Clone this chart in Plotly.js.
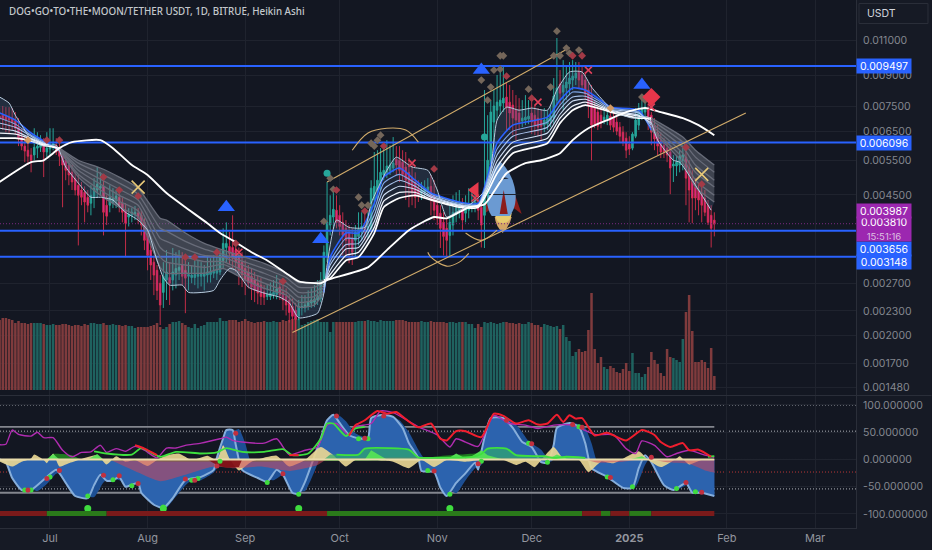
<!DOCTYPE html>
<html><head><meta charset="utf-8">
<script src="https://cdn.plot.ly/plotly-3.0.1.min.js"></script>
<style>html,body{margin:0;padding:0;background:#131722}#c{width:932px;height:550px}</style></head>
<body><div id="c"></div>
<script>
// All prices below are in millionths of USDT
const opens=[7100,7140,7100,7060,6980,6900,6660,6290,5970,5830,5670,5670,5900,5930,5970,5770,5870,5970,6000,5900,5730,5500,5350,5130,4960,4760,4630,4570,4440,4290,4440,4630,4680,4730,4240,4240,4290,4370,4440,4290,4120,3960,4000,4020,4050,4000,3840,3560,3270,3050,2910,2700,2560,2750,2790,2750,2830,2910,3010,2910,2810,2790,2790,2810,2810,2810,2830,2840,2860,2860,2880,3080,3320,3340,3320,3270,3170,3050,2940,2880,2810,2750,2700,2670,2570,2500,2500,2520,2530,2640,2560,2500,2450,2360,2310,2230,2340,2340,2360,2410,2420,2450,2470,2670,3160,3780,3960,4120,4000,3840,3710,3630,3500,3460,3540,3630,3710,3630,3710,4370,4630,4790,5050,5130,5190,5260,5530,5500,5440,5290,5130,4960,4850,4680,4550,4570,4630,4730,4490,4240,4050,3840,3710,3560,3780,4020,4120,4140,4050,4120,4170,4220,4290,4190,4000,4490,5350,6860,7350,7530,7660,7930,7700,7570,7350,7230,6900,6940,6980,7230,7140,7020,6940,6740,6780,6900,7020,7790,8550,8160,8360,8550,8750,8850,9170,9010,8750,8260,8020,7440,7270,7140,6940,6980,7100,7020,6860,6660,6470,6250,6040,5900,6320,6740,7140,7270,7350,7140,6740,6440,6180,6000,5900,5770,5320,5320,5350,5500,5600,5260,4900,4710,4630,4520,4420,4240,4000,3890];
const closes=[6980,6980,6940,6940,6860,6620,6250,5970,5800,5630,5500,5930,5970,6070,5770,5900,6040,6070,5770,5630,5350,5190,5050,4850,4630,4490,4440,4320,4240,4490,4680,4790,4730,4070,3980,4440,4420,4470,4240,4070,3820,4020,4070,4070,3930,3780,3460,3170,3000,2830,2590,2380,2810,2880,2700,2880,2940,2960,2810,2780,2840,2830,2840,2840,2860,2860,2880,2880,2890,2910,3170,3400,3400,3210,3120,3050,2910,2840,2750,2700,2640,2590,2550,2500,2490,2530,2550,2560,2610,2520,2450,2380,2280,2230,2190,2360,2360,2380,2420,2450,2460,2500,2750,3230,3840,4000,4140,3840,3750,3560,3460,3360,3230,3630,3690,3750,3630,3750,4680,4730,4900,5130,5190,5320,5350,5410,5350,5190,5070,4900,4760,4570,4440,4490,4630,4680,4710,4370,4120,3930,3710,3540,3460,3840,4070,4170,4220,3890,4170,4220,4260,4320,4120,3780,4630,5500,7270,7530,7700,7790,7880,7440,7230,7020,6940,6860,7020,7060,7100,6860,6740,6660,6700,6940,7020,7100,7970,8360,8110,8500,8650,8850,8950,9110,8750,8500,8070,7570,6740,6780,6700,6820,7060,7140,6740,6660,6510,6320,6110,5830,5870,6400,6940,7270,7440,7480,7020,6470,6220,5970,5770,5770,5670,5260,5380,5440,5630,5670,4960,4630,4420,4420,4370,4240,4070,3840,3710,3800];
const highs=[7440,7530,7480,7480,7440,7270,7020,6620,6320,6180,5900,6620,6470,6360,6250,6470,6620,6620,6250,6110,5830,5670,5500,5350,5130,5050,4850,4730,4630,4760,4960,5290,5130,4900,4490,4760,4680,4630,4630,4420,4290,4170,4170,4220,4170,4120,3930,3670,3360,3170,3000,2830,3050,3270,3050,3310,3230,3270,3230,3170,3050,3000,3120,3080,3050,3000,3170,3120,3170,3270,3270,3710,3840,3630,4000,3460,3320,3230,3080,3000,2940,2880,2830,2780,2670,2670,2710,2750,2830,2750,2750,2620,2520,2470,2410,2450,2520,2520,2590,2620,2670,2750,2880,3360,4850,4490,4630,4490,4240,4070,3890,3780,3710,3780,4070,4070,4120,4120,4900,5770,5830,5900,6000,6180,6000,6290,5970,5970,5830,5770,5570,5350,5130,4900,4850,4900,4960,5050,4900,4420,4240,4070,3930,4240,4490,4570,4630,4420,4490,4680,4630,4710,4490,4370,8260,7140,7790,8260,9010,9430,9540,8650,8500,8260,8020,7880,7790,8020,7790,7790,7570,7440,7350,7440,7350,7570,8850,11160,9270,9820,9540,9710,9820,9710,9710,9540,9170,8650,8500,7790,7570,7440,7350,7440,7270,7270,7100,6860,6700,6470,6320,6470,7440,7660,7880,8020,7570,7270,7020,6740,6470,6250,6110,6000,5670,5670,5830,6000,5830,5500,5190,4960,4790,4730,4630,4370,4240,4070];
const lows=[6620,6550,6470,6440,6550,6400,5970,5830,5440,5350,5130,5500,5570,5770,4990,5600,5670,5830,5670,5320,4190,4900,4760,4630,4490,3360,4240,3840,4070,4000,4170,4420,4470,3560,3780,4070,4170,4170,4070,3840,3140,3750,3840,3890,3800,3560,3270,2910,2750,2520,2450,2120,2340,2450,2380,2590,2620,2750,2670,2270,2590,2700,2670,2620,2650,2590,2710,2710,2780,2750,2830,2940,3050,3000,2940,2880,2670,2640,2520,2620,2450,2420,2390,2380,2380,2450,2450,2470,2460,2450,2310,2240,2150,2060,2030,2180,2240,2280,2310,2340,2350,2380,2420,2590,3050,3560,3710,3710,3560,3170,3120,3030,3000,3120,3360,3460,3460,3500,3630,4120,4370,4630,4900,4960,5050,5130,5050,4850,4900,4370,4190,4240,4170,4320,4370,4440,4490,4000,3890,3780,3310,3170,3140,3140,3560,3840,3930,3650,3840,3930,4070,4070,3890,3320,3310,4240,5130,5830,6940,7140,7270,6550,6550,6360,6180,6550,6660,6740,6780,6400,6360,6320,6180,6470,6550,6660,6780,7570,7570,7350,7790,8020,8260,8500,8360,8260,7790,7020,5500,6620,6550,6620,6780,6740,6550,6470,6360,6110,5970,5570,5670,5830,6250,6550,6940,7020,6550,6000,5830,5670,5570,5570,5440,4520,4850,5020,5130,5190,4240,3840,3820,4120,4000,3840,3980,3780,3320,3540];
const volumes=[70,72,72,71,70,67,69,67,67,66,67,67,67,67,66,65,65,66,65,65,66,66,65,64,65,65,64,66,65,67,67,66,66,67,65,65,66,65,65,64,65,64,64,62,63,63,63,63,64,65,67,63,61,63,66,68,68,69,67,65,63,62,66,62,64,65,68,68,68,68,72,69,69,70,70,70,68,69,71,69,68,67,68,68,69,68,68,69,68,68,70,69,70,71,72,71,65,66,68,69,70,71,68,68,68,58,68,68,68,68,68,68,68,68,69,69,69,70,69,69,68,70,69,69,69,69,70,70,70,69,68,68,68,68,69,68,68,69,68,68,68,68,67,68,68,67,68,68,68,66,66,62,66,63,68,67,68,67,66,67,68,68,67,67,66,67,66,66,68,67,65,65,63,66,65,64,63,64,61,65,53,49,34,38,41,38,39,60,97,41,27,33,23,21,24,22,18,17,21,27,19,37,17,17,13,16,23,38,30,26,17,14,41,33,32,30,28,51,78,95,59,28,28,30,28,22,42,14];

const ribbonDays=[0,5,10,14,19,25,32,38,44,51,53,59,65,71,78,84,91,95,100,103,105,110,114,119,122,127,132,137,146,152,158,163,174,178,182,186,190,194,203,207,217,221,227];
const ribbon0=[7230,6940,6440,6150,5830,4990,4490,4190,3960,2960,2860,2860,2860,2940,2750,2620,2520,2350,2380,2560,3140,3610,3610,4290,4990,5260,4900,4550,4320,4290,6070,6740,7060,7790,8360,8260,7880,7480,7350,6550,5410,4710,4320];
const ribbon1=[7020,6780,6360,6110,5830,5070,4630,4340,4100,3140,3050,3000,2960,3010,2830,2700,2570,2420,2450,2590,3060,3500,3500,4140,4820,5070,4820,4520,4290,4260,5870,6510,6860,7570,8160,8110,7790,7440,7270,6620,5570,4900,4490];
const ribbon2=[6820,6660,6320,6070,5870,5190,4790,4490,4240,3320,3230,3140,3060,3060,2890,2780,2650,2490,2500,2640,3000,3380,3400,4000,4650,4900,4730,4470,4260,4240,5670,6320,6660,7390,7930,7970,7700,7390,7230,6740,5730,5130,4710];
const ribbon3=[6620,6510,6250,6070,5870,5290,4930,4650,4370,3500,3440,3290,3170,3140,2980,2860,2710,2560,2570,2670,2910,3290,3320,3860,4490,4730,4650,4440,4240,4240,5470,6110,6440,7180,7750,7830,7610,7350,7140,6820,5930,5350,4900];
const ribbon4=[6440,6400,6220,6040,5900,5410,5100,4820,4520,3710,3650,3440,3290,3190,3050,2940,2790,2640,2640,2710,2840,3170,3230,3730,4340,4570,4570,4390,4220,4220,5290,5930,6250,7020,7530,7700,7530,7310,7100,6940,6110,5600,5130];
const ribbon5=[6250,6250,6150,6000,5900,5500,5260,4990,4680,3930,3890,3610,3400,3270,3140,3030,2860,2710,2710,2750,2780,3080,3140,3610,4190,4420,4490,4370,4190,4190,5100,5730,6070,6820,7350,7570,7440,7270,7020,7020,6290,5830,5350];
const thinDays=[0,3,5,8,10,14,18,21,25,29,32,36,40,44,47,50,52,54,58,60,68,70,73,75,79,84,89,92,95,101,103,104,107,111,116,118,123,126,131,136,139,142,145,150,155,158,161,165,169,174,177,181,185,188,193,196,201,206,209,214,216,220,222,226];
const thinLine=[7930,7660,7140,6550,6180,5970,6000,5290,4820,4440,4440,4370,4070,3890,3670,3080,2790,2670,2670,2560,2590,2750,2940,2910,2640,2550,2490,2410,2210,2270,2550,3000,3890,3730,3730,4290,5190,5600,5290,5190,4630,3960,4070,4290,4710,6940,7480,7350,7440,7350,8260,9170,9170,8400,7570,7230,7020,7060,6180,5500,5440,4900,4630,4120];
const slowDays=[0,10,14,17,19,23,32,36,42,47,53,59,66,70,74,80,85,91,95,102,104,117,123,130,138,142,149,154,161,167,172,178,182,187,193,199,205,210,217,222,227];
const slowLine=[4850,5440,5500,5730,5900,6110,6180,5900,5350,5050,4550,4190,3820,3610,3460,3230,3080,2860,2730,2700,2750,2960,3270,3670,3960,3930,4190,4260,5100,5410,5500,5730,6180,6620,6940,7270,7440,7270,7020,6740,6360];

const levels=[9497,6096,3656,3148];
const lastPrice=3810;
const channelUpperDays=[104,181], channelUpperPrices=[4850,10550];
const channelLowerDays=[93,237], channelLowerPrices=[2030,7230];
const arc1Days=[112,117,123,129,133], arc1Prices=[5830,6440,6620,6550,6110];
const arc2Days=[136,137,142,146,149], arc2Prices=[3230,3140,2980,3050,3210];
const arc3Days=[148,153,158], arc3Prices=[3610,3460,3670];

const triDays=[72,102,153,204], triPrices=[4190,3480,9270,8500];
const circleDays=[104,154], circlePrices=[5100,6290];
const redDiaDays=[15,19,33,38,44,59,62,69,75,90,107,116,122,138,161,169,182,185,218,223];
const redDiaPrices=[6180,6180,4990,4630,4470,3140,3140,3230,3400,2730,4630,4100,5970,5230,8950,7880,10070,10070,5930,4790];
const tanDiaDays=[105,106,103,114,115,117,118,119,120,121,153,156,155,157,159,159,160,168,175,176,177,180,181,184,178,204,205];
const tanDiaPrices=[4960,4650,3860,4440,4240,4240,6070,5970,6180,6360,8750,8400,7790,9270,9320,10070,10070,8300,8400,10070,11610,10530,10220,10410,10070,7930,7790];
const orangeDiaDays=[9,194], orangeDiaPrices=[6180,7440];
const crossDays=[76,131,171,187,207,151], crossPrices=[3230,5410,7700,9270,7480,4420];
const yellowXDays=[44,223], yellowXPrices=[4710,5070];
const bigDiaDays=[207], bigDiaPrices=[7930];
const redTriDays=[151], redTriPrices=[4630];

const waveDays=[0,2,4,7,10,15,18,21,24,28,30,32,34,36,38,40,44,45,49,52,55,59,64,68,69,71,72,74,75,77,82,85,88,90,93,95,97,99,102,104,106,108,111,114,117,118,122,125,128,130,133,134,138,140,142,145,148,151,152,153,156,160,163,166,169,172,174,176,177,181,184,186,188,193,198,201,203,205,207,211,214,218,220,223,227];
const waveValues=[0,-5,-34,-56,-56,-32,-19,-43,-67,-71,-47,-28,-39,-38,-32,-50,-43,-61,-83,-89,-71,-38,-32,-19,3,39,54,54,27,-19,-34,-41,-19,-28,-61,-63,-41,-10,39,72,82,67,45,39,39,76,82,78,58,30,3,-21,-23,-52,-67,-43,-25,-6,-19,14,76,76,58,32,23,-5,-6,27,58,67,60,30,-16,-32,-52,-52,-16,8,-5,-47,-56,-43,-61,-61,-67];
const signalDays=[0,6,9,12,15,18,21,24,27,30,33,35,38,41,44,47,50,53,56,60,64,68,70,72,74,76,78,80,84,87,90,92,95,97,100,103,106,108,110,113,117,120,124,127,130,133,136,139,142,145,148,151,153,155,158,162,165,168,172,175,177,179,183,186,188,190,194,199,202,205,207,209,212,215,219,221,224,227];
const signalValues=[-2,-25,-50,-58,-45,-26,-27,-50,-66,-69,-42,-36,-38,-42,-48,-62,-80,-88,-68,-42,-38,-24,-8,25,50,56,30,-8,-33,-38,-28,-35,-58,-58,-22,22,70,80,70,48,40,65,80,72,50,18,-8,-22,-50,-62,-38,-16,-10,30,76,74,58,34,18,-4,8,52,66,58,30,-8,-32,-48,-50,-10,6,-8,-42,-56,-45,-58,-62,-68];
const creamDays=[0,4,7,10,11,14,15,17,19,22,25,31,34,37,40,43,47,50,53,57,61,66,69,71,73,76,80,88,92,97,102,106,110,113,118,122,125,130,134,138,142,148,153,160,164,167,170,172,176,179,184,187,191,195,203,206,210,215,216,219,223,227];
const creamValues=[-4,-13,-4,2,9,-1,-7,11,-13,-7,-1,8,-9,6,-4,-1,-12,-1,8,11,-1,7,-1,26,2,-20,-4,7,-13,-1,23,8,-13,-1,-1,-2,-4,-16,-1,-14,-1,-4,-1,-1,-10,-4,-14,-1,23,2,-1,-23,-4,-7,15,-1,-14,2,6,-9,-1,-1];
const redFlowDays=[35,44,51,59,68,74,83,92,101,104,186,190,198,203,207,212,219,224,227];
const redFlowValues=[0,-24,-40,-28,-13,-16,-13,-21,-10,0,0,-6,-4,0,0,-5,-8,-20,-24];
const deepRedDays=[66,69,72,76,77], deepRedValues=[0,-10,-15,-14,0];
const greenFlowDays=[103,105,114,116,124,130,133,137,150,153,155,161,164,173,176,180,186,187];
const greenFlowValues=[0,9,9,20,20,18,4,3,2,10,20,20,8,6,2,6,3,0];
const brightDays=[15,17,19,28,31,33,116,118,120,123,142,145,148,150,153,155,160,174,177,180,183,200,204,206];
const brightValues=[0,10,0,0,10,0,0,17,10,0,0,11,2,6,17,8,0,0,9,2,0,0,6,0];
const darkGreenDays=[15,17,23,26,133,138,146,152,156,160], darkGreenValues=[0,10,8,0,0,5,9,11,4,0];
const magentaDays=[0,2,4,6,10,12,14,17,20,23,26,29,32,34,37,40,43,46,50,53,56,59,64,70,72,74,77,84,88,92,97,101,104,107,111,113,118,121,125,133,139,143,145,148,152,157,162,167,171,176,182,189,195,199,202,204,208,212,215,219,224,227];
const magentaValues=[27,28,54,46,43,50,40,40,17,5,13,14,26,13,20,15,24,17,3,21,21,26,30,38,41,35,32,30,38,9,17,23,63,66,44,60,66,89,86,60,45,23,38,32,24,81,66,63,57,63,63,46,45,20,11,34,26,5,11,17,8,4];
const redLineDays=[43,46,50,null,92,95,null,111,113,114,116,120,123,126,129,133,137,140,142,145,148,153,157,160,164,168,171,174,177,179,181,183,185,189,193,199,204,208,210,213,217,219,222,226];
const redLineValues=[26,20,8,null,8,8,null,44,63,66,72,89,84,87,74,59,66,38,35,52,52,41,84,80,66,72,64,66,82,69,81,75,76,44,49,35,54,45,32,23,30,17,18,5];
const limeDays=[30,34,42,45,51,56,64,69,72,77,84,90,93,98,102,104,106,110,113,116,null,107,114,116,124,130,133,137,150,153,155,161,164,173,176,180,186,null,225,227];
const limeValues=[15,11,9,21,5,14,11,13,21,14,14,19,8,11,38,66,66,43,57,60,null,9,9,20,21,18,4,3,5,10,20,20,8,6,3,5,3,null,5,6];
const greenDotDays=[8,10,16,28,36,42,52,61,63,70,85,95,114,117,136,143,153,168,174,184,193,201,215,221];
const greenDotValues=[-56,-56,-32,-67,-37,-48,-87,-38,-35,-3,-42,-64,38,38,-20,-64,-3,30,-5,60,-32,-50,-53,-59];
const redDotDays=[9,15,19,33,38,44,59,62,69,75,90,107,116,122,138,152,161,169,182,185,194,207,218,223];
const redDotValues=[-56,-35,-20,-29,-30,-44,-36,-38,-12,48,-26,80,39,80,-21,-8,72,29,64,59,-33,4,-42,-60];
const bigDotDays=[28,52,95,143], bigDotValues=[-90,-90,-90,-90];
const stripDays=[0,15,34,104,185,191,194,200,207,227];
const stripBull=[0,1,0,1,0,1,0,1,0];
const stripLevel=-99;

const priceTicks=[0.011,0.009,0.0075,0.0065,0.0055,0.0045,0.0027,0.0023,0.002,0.0017,0.00148];
const oscTicks=[100,50,0,-50,-100];
const monthTicks=['2024-07-01','2024-08-01','2024-09-01','2024-10-01','2024-11-01','2024-12-01','2025-01-01','2025-02-01','2025-03-01'];
const monthLabels=['Jul','Aug','Sep','Oct','Nov','Dec','<b>2025</b>','Feb','Mar'];
const title='DOG\u2022GO\u2022TO\u2022THE\u2022MOON/TETHER USDT, 1D, BITRUE, Heikin Ashi';

const BG='#131722', GRID='#1f232e', AXIS='#2a2e39', TXT='#84878f';
const FONT='Inter, Roboto, sans-serif';
const xStart='2024-06-15 03:00', xEnd='2025-03-14 00:00';
const d0=Date.UTC(2024,5,15);
const day=i=>i===null?null:new Date(d0+i*864e5).toISOString().slice(0,10);
const days=a=>a.map(day);
const price=a=>a.map(v=>v===null?null:v/1e6);
const idx=opens.map((_,i)=>i);
const dates=days(idx);

const traces=[];
// volume (base subplot)
const volumeColors=idx.map(i=>closes[i]>=opens[i]?'#1f625f':'#7f3b3d');
traces.push({type:'bar',x:dates,y:volumes,xaxis:'x',yaxis:'y',width:0.8*864e5,
  marker:{color:volumeColors,line:{width:0}},hoverinfo:'skip'});
// candles
traces.push({type:'candlestick',x:dates,open:price(opens),high:price(highs),low:price(lows),close:price(closes),xaxis:'x',yaxis:'y3',
  width:0.9*864e5,whiskerwidth:0,
  increasing:{line:{color:'#26a69a',width:1},fillcolor:'#26a69a'},
  decreasing:{line:{color:'#d62f4c',width:0.9},fillcolor:'#e0249f'},hoverinfo:'skip'});
const SM=0.55;
const pl=(x,y,o)=>Object.assign({type:'scatter',mode:'lines',x:x,y:y,xaxis:'x',yaxis:'y3',hoverinfo:'skip',cliponaxis:true},o);
// levels
levels.forEach(l=>traces.push(pl([xStart,xEnd],price([l,l]),{line:{color:'#2962ff',width:2}})));
traces.push(pl([xStart,xEnd],price([lastPrice,lastPrice]),{line:{color:'#7b2a80',width:1,dash:'1px,2px'}}));
// fill between fast ribbon and thin line
traces.push(pl(days(ribbonDays),price(ribbon0),{line:{width:0,shape:'spline',smoothing:SM}}));
traces.push(pl(days(thinDays),price(thinLine),{line:{width:0,shape:'spline',smoothing:SM},fill:'tonexty',fillcolor:'rgba(70,95,130,0.3)'}));
// ribbon by phase
const ribbons=[ribbon0,ribbon1,ribbon2,ribbon3,ribbon4,ribbon5];
const bullCol=['#2962ff','#7fa6e6','#a9c4ee','#cfdff5','#eef3fb','#ffffff'];
const bullW=[1.6,1.1,1.1,1.1,1.3,1.7];
[[0,4,1],[4,19,0],[19,39,1],[39,42,0]].forEach(([a,b,bull])=>{
  const xs=days(ribbonDays.slice(a,b+1));
  traces.push(pl(xs,price(ribbon5.slice(a,b+1)),{line:{width:0,shape:'spline',smoothing:SM}}));
  traces.push(pl(xs,price(ribbon0.slice(a,b+1)),{line:{width:0,shape:'spline',smoothing:SM},fill:'tonexty',fillcolor:bull?'rgba(70,95,130,0.2)':'rgba(125,130,145,0.42)'}));
  ribbons.forEach((r,k)=>traces.push(pl(xs,price(r.slice(a,b+1)),{line:{shape:'spline',smoothing:SM,color:bull?bullCol[k]:'#686c79',width:bull?bullW[k]:1.3}})));
});
traces.push(pl(days(thinDays),price(thinLine),{line:{color:'#b9cde0',width:1,shape:'spline',smoothing:SM}}));
traces.push(pl(days(slowDays),price(slowLine),{line:{color:'#ffffff',width:1.9,shape:'spline',smoothing:SM}}));
// channel + arcs
const GOLD='#d2ac6b';
traces.push(pl(days(channelUpperDays),price(channelUpperPrices),{line:{color:GOLD,width:1.1}}));
traces.push(pl(days(channelLowerDays),price(channelLowerPrices),{line:{color:GOLD,width:1.1}}));
[[arc1Days,arc1Prices],[arc2Days,arc2Prices],[arc3Days,arc3Prices]].forEach(([a,b])=>traces.push(pl(days(a),price(b),{line:{color:GOLD,width:1.1,shape:'spline'}})));
// signal markers
const mk=(x,y,symbol,size,color,extra)=>pl(days(x),price(y),{mode:'markers',marker:Object.assign({symbol,size,color,line:{width:0}},extra||{})});
traces.push(mk(tanDiaDays,tanDiaPrices,'diamond',6,'#74665a'));
traces.push(mk(redDiaDays,redDiaPrices,'diamond',6,'#a23a46'));
traces.push(mk(orangeDiaDays,orangeDiaPrices,'diamond',6,'#d49a62'));
traces.push(mk(triDays,triPrices,'triangle-up',15,'#2962ff'));
traces.push(mk(circleDays,circlePrices,'circle',7,'#26a69a'));
traces.push(mk(crossDays,crossPrices,'x-thin',7,'#e0405a',{line:{color:'#e0405a',width:1.6}}));
traces.push(mk(yellowXDays,yellowXPrices,'x-thin',13,'#e6c878',{line:{color:'#e6c878',width:1.6}}));
traces.push(mk(bigDiaDays,bigDiaPrices,'diamond',14,'#e6364a'));
traces.push(mk(redTriDays,redTriPrices,'triangle-left',14,'#e6394b'));

// oscillator
const os=(x,y,o)=>Object.assign({type:'scatter',mode:'lines',x:days(x),y:y,xaxis:'x',yaxis:'y2',hoverinfo:'skip'},o);
const end=day(227);
[[60,'#83868e'],[-61,'#83868e']].forEach(([v,c])=>traces.push({type:'scatter',mode:'lines',x:[xStart,end],y:[v,v],xaxis:'x',yaxis:'y2',line:{color:c,width:1.8},hoverinfo:'skip'}));
traces.push(os(signalDays,signalValues,{fill:'tozeroy',fillcolor:'#1d4f94',line:{width:0,shape:'spline',smoothing:SM}}));
traces.push(os(waveDays,waveValues,{fill:'tozeroy',fillcolor:'#2c63ae',line:{color:'#86aedb',width:2,shape:'spline',smoothing:SM}}));
traces.push(os(darkGreenDays,darkGreenValues,{fill:'tozeroy',fillcolor:'#1f7a1f',line:{width:0,shape:'spline',smoothing:0.5}}));
traces.push(os(creamDays,creamValues,{fill:'tozeroy',fillcolor:'rgba(232,214,146,0.92)',line:{width:0,shape:'spline',smoothing:0.5}}));
traces.push(os(redFlowDays,redFlowValues,{fill:'tozeroy',fillcolor:'rgba(205,70,90,0.55)',line:{width:0,shape:'spline',smoothing:0.5}}));
traces.push(os(deepRedDays,deepRedValues,{fill:'tozeroy',fillcolor:'rgba(130,16,20,0.9)',line:{width:0}}));
traces.push(os(greenFlowDays,greenFlowValues,{fill:'tozeroy',fillcolor:'rgba(45,170,110,0.7)',line:{width:0}}));
traces.push(os(brightDays,brightValues,{fill:'tozeroy',fillcolor:'rgba(85,225,85,0.95)',line:{width:0}}));
traces.push({type:'scatter',mode:'lines',x:[xStart,end],y:[0,0],xaxis:'x',yaxis:'y2',line:{color:'#e9dcab',width:1.8},hoverinfo:'skip'});
traces.push(os(magentaDays,magentaValues,{line:{color:'#b02cb0',width:1.4,shape:'spline',smoothing:0.6}}));
traces.push(os(limeDays,limeValues,{line:{color:'#3ee03e',width:1.8,shape:'spline',smoothing:0.6}}));
traces.push(os(redLineDays,redLineValues,{line:{color:'#f01e2e',width:2,shape:'spline',smoothing:0.6}}));
traces.push(os(greenDotDays,greenDotValues,{mode:'markers',marker:{color:'#3fdc3f',size:5}}));
traces.push(os(redDotDays,redDotValues,{mode:'markers',marker:{color:'#c0303f',size:5}}));
traces.push(os(bigDotDays,bigDotValues,{mode:'markers',marker:{color:'#3fdc3f',size:7}}));
stripBull.forEach((b,i)=>traces.push(os([stripDays[i],stripDays[i+1]],[stripLevel,stripLevel],{line:{color:b?'#2a7a1a':'#7a1a1a',width:5}})));

// page helpers (pixels -> paper)
const W=856.5,H=528;
const X=x=>x/W, Y=y=>1-y/H;
const P=(x,y)=>X(x)+','+Y(y);
const path=(d,fill)=>({type:'path',xref:'paper',yref:'paper',layer:'below',path:d,fillcolor:fill,line:{width:0}});
const rect=(x0,y0,x1,y1,fill,line,layer)=>({type:'rect',xref:'paper',yref:'paper',x0:X(x0),x1:X(x1),y0:Y(y0),y1:Y(y1),fillcolor:fill,line:line||{width:0},layer:layer||'below'});
const hline=(v,color)=>({type:'line',xref:'paper',yref:'y2',x0:0,x1:1,y0:v,y1:v,line:{color:color,width:1,dash:'1px,2px'},layer:'below'});
const shapes=[
  rect(857,0,932,550,'#161a25'),
  rect(0,528,932,550,'#161a25'),
  // rocket
  path(`M${P(490,189)} L${P(484,214)} L${P(497,205)} Z`,'#8c1c1c'),
  path(`M${P(514,191)} L${P(522,214)} L${P(510,205)} Z`,'#8c1c1c'),
  path(`M${P(495,217)} Q${P(496,226)} ${P(503,233)} Q${P(510,226)} ${P(512,217)} Z`,'#d4a666'),
  path(`M${P(495,213)} Q${P(496,223)} ${P(503,223)} Q${P(511,223)} ${P(512,213)} Z`,'#e7cc6e'),
  path(`M${P(500,161)} C${P(510,170)} ${P(516,184)} ${P(516,197)} C${P(516,206)} ${P(513,212)} ${P(510,216)} L${P(492,216)} C${P(489,212)} ${P(487,205)} ${P(487,195)} C${P(488,182)} ${P(492,170)} ${P(500,161)} Z`,'#6b9ad2'),
  path(`M${P(504,190)} L${P(500,214)} L${P(508,214)} Z`,'#8c1c1c'),
  path(`M${P(499,182)} Q${P(503,175)} ${P(509,179)} Q${P(503,178)} ${P(499,182)} Z`,'#131722'),
  // pane frames
  {type:'line',xref:'paper',yref:'paper',x0:0,x1:X(932),y0:Y(395.5),y1:Y(395.5),line:{color:AXIS,width:1},layer:'below'},
  hline(100,'#b0b3ba'),hline(52,'#b0b3ba'),hline(-54,'#b0b3ba'),hline(0,'#b0b3ba'),hline(-23,'#b83636'),
  // currency button
  rect(859.5,3.5,928.5,23.5,'#161a25',{color:AXIS,width:1},'above')
];

const chip=(py,text,bg,h)=>({xref:'paper',yref:'paper',x:X(857),y:Y(py),xanchor:'left',yanchor:'middle',text:text,showarrow:false,
  bgcolor:bg,width:54,height:h||14,borderpad:0,align:'center',font:{family:FONT,size:10.5,color:'#ffffff'}});
const annotations=[
  {xref:'paper',yref:'paper',x:X(7),y:Y(12),xanchor:'left',yanchor:'middle',showarrow:false,text:title,font:{family:'"Noto Sans", sans-serif',size:9.8,weight:500,color:'#c3c8cc'}},
  {xref:'paper',yref:'paper',x:X(866),y:Y(13.5),xanchor:'left',yanchor:'middle',showarrow:false,text:'USDT',font:{family:FONT,size:10.5,color:'#d1d4dc'}},
  chip(66,(levels[0]/1e6).toFixed(6),'#2962ff'),
  chip(142.5,(levels[1]/1e6).toFixed(6),'#2962ff'),
  chip(262,(levels[3]/1e6).toFixed(6),'#2962ff'),
  chip(248.5,(levels[2]/1e6).toFixed(6),'#2962ff'),
  chip(229.5,(lastPrice/1e6).toFixed(6)+'<br><span style="font-size:9.5px;color:#dcc0e2">15:51:16</span>','#9c27b0',24),
  chip(211,'0.003987','#9c27b0')
];

const layout={
  width:932,height:550,paper_bgcolor:BG,plot_bgcolor:BG,showlegend:false,barmode:'overlay',
  margin:{l:0,r:75.5,t:0,b:22,pad:0},dragmode:false,hovermode:false,
  font:{family:FONT,color:TXT,size:10.5},
  xaxis:{type:'date',range:[xStart,xEnd],domain:[0,1],anchor:'y2',rangeslider:{visible:false},
    tickmode:'array',tickvals:monthTicks,ticktext:monthLabels,ticks:'',showgrid:true,gridcolor:GRID,gridwidth:1,
    tickfont:{family:FONT,size:11,color:'#93969f'},showline:true,linecolor:AXIS,linewidth:1,zeroline:false,fixedrange:true},
  yaxis:{domain:[0.2519,1],range:[-5,390],visible:false,fixedrange:true,anchor:'x'},
  yaxis3:{type:'log',overlaying:'y',side:'right',anchor:'x',range:[-2.8496,-1.8568],tickmode:'array',tickvals:priceTicks,
    ticktext:priceTicks.map(v=>v.toFixed(6)),ticks:'',ticklabelstandoff:4,gridcolor:GRID,gridwidth:1,zeroline:false,showline:true,linecolor:AXIS,linewidth:1,
    tickfont:{family:FONT,size:10.5,color:TXT},fixedrange:true},
  yaxis2:{domain:[0,0.25],range:[-125.7,116.5],side:'right',anchor:'x',tickmode:'array',tickvals:oscTicks,ticktext:oscTicks.map(v=>v.toFixed(6)),
    ticks:'',ticklabelstandoff:4,gridcolor:GRID,gridwidth:1,zeroline:false,showline:true,linecolor:AXIS,linewidth:1,
    tickfont:{family:FONT,size:10.5,color:TXT},fixedrange:true},
  shapes:shapes,annotations:annotations
};
Plotly.newPlot('c',traces,layout,{displayModeBar:false,staticPlot:true});
</script></body></html>
